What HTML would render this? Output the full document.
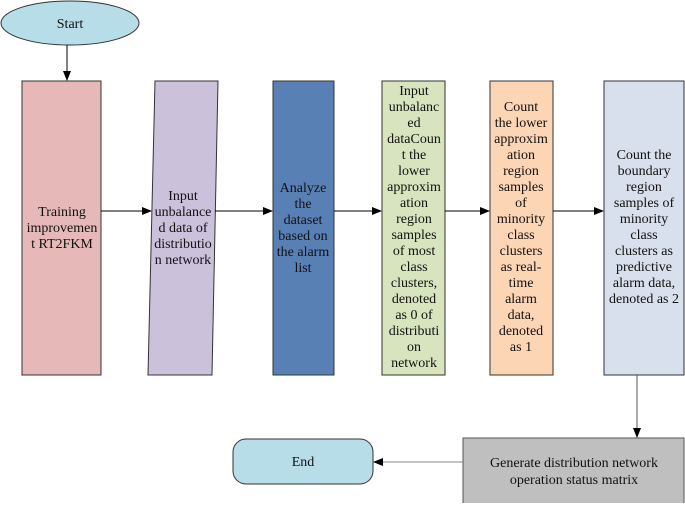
<!DOCTYPE html>
<html><head><meta charset="utf-8"><style>
html,body{margin:0;padding:0;background:#fff;}
text{font-family:"Liberation Serif","Times New Roman",serif;font-size:14px;}
</style></head><body>
<svg width="685" height="503" viewBox="0 0 685 503" xmlns="http://www.w3.org/2000/svg">
<defs><marker id="a" markerWidth="10" markerHeight="8" refX="9" refY="4" orient="auto" markerUnits="userSpaceOnUse"><path d="M0,0 L10,4 L0,8 z" fill="#000"/></marker></defs>
<g stroke="#333" stroke-width="1">
<ellipse cx="70" cy="23" rx="69" ry="22" fill="#b7dde8"/>
<rect x="22" y="81" width="79" height="294" fill="#e6b9b8"/>
<polygon points="155,81 218,81 212,375 148,375" fill="#ccc1da"/>
<rect x="273" y="81" width="61" height="294" fill="#5980b5"/>
<rect x="382" y="81" width="63" height="294" fill="#d7e4bd"/>
<rect x="490" y="81" width="63" height="294" fill="#fcd5b5"/>
<rect x="604" y="81" width="80" height="294" fill="#d7e0ec"/>
<rect x="463" y="438" width="221" height="66" fill="#bfbfbf" stroke="#555"/>
<rect x="233" y="439" width="140" height="45" rx="13" fill="#b7dde8"/>
</g>
<g stroke="#000" stroke-width="1" fill="none">
<line x1="67" y1="45" x2="67" y2="80" marker-end="url(#a)"/>
<line x1="101" y1="211" x2="151" y2="211" marker-end="url(#a)"/>
<line x1="215" y1="211" x2="272" y2="211" marker-end="url(#a)"/>
<line x1="334" y1="211" x2="381" y2="211" marker-end="url(#a)"/>
<line x1="445" y1="211" x2="489" y2="211" marker-end="url(#a)"/>
<line x1="553" y1="211" x2="603" y2="211" marker-end="url(#a)"/>
<line x1="637" y1="375" x2="637" y2="437" stroke="#555" marker-end="url(#a)"/>
<line x1="463" y1="462" x2="374" y2="462" stroke="#888" marker-end="url(#a)"/>
</g>
<g fill="#111" text-anchor="middle" font-family="Liberation Serif, serif" font-size="14">
<text x="70" y="28">Start</text>
<text x="62" y="216">Training</text><text x="62" y="232">improvemen</text><text x="62" y="248">t RT2FKM</text>
<text x="183" y="200">Input</text><text x="183" y="216">unbalance</text><text x="183" y="232">d data of</text><text x="183" y="248">distributio</text><text x="183" y="264">n network</text>
<text x="303" y="192">Analyze</text><text x="303" y="208">the</text><text x="303" y="224">dataset</text><text x="303" y="240">based on</text><text x="303" y="256">the alarm</text><text x="303" y="272">list</text>
<g transform="translate(414,0)">
<text y="95">Input</text><text y="111">unbalanc</text><text y="127">ed</text><text y="143">dataCoun</text><text y="159">t the</text><text y="175">lower</text><text y="191">approxim</text><text y="207">ation</text><text y="223">region</text><text y="239">samples</text><text y="255">of most</text><text y="271">class</text><text y="287">clusters,</text><text y="303">denoted</text><text y="319">as 0 of</text><text y="335">distributi</text><text y="351">on</text><text y="367">network</text>
</g>
<g transform="translate(521,0)">
<text y="111">Count</text><text y="127">the lower</text><text y="143">approxim</text><text y="159">ation</text><text y="175">region</text><text y="191">samples</text><text y="207">of</text><text y="223">minority</text><text y="239">class</text><text y="255">clusters</text><text y="271">as real-</text><text y="287">time</text><text y="303">alarm</text><text y="319">data,</text><text y="335">denoted</text><text y="351">as 1</text>
</g>
<g transform="translate(644,0)">
<text y="159">Count the</text><text y="175">boundary</text><text y="191">region</text><text y="207">samples of</text><text y="223">minority</text><text y="239">class</text><text y="255">clusters as</text><text y="271">predictive</text><text y="287">alarm data,</text><text y="303">denoted as 2</text>
</g>
<text x="574" y="467">Generate distribution network</text>
<text x="574" y="484">operation status matrix</text>
<text x="303" y="466">End</text>
</g>
</svg>
</body></html>
